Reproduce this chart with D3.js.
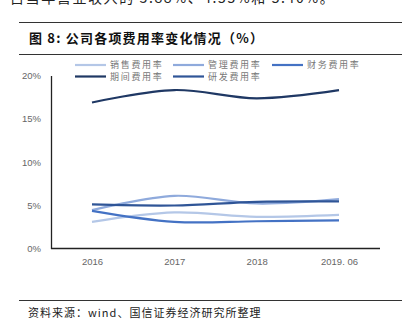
<!DOCTYPE html>
<html><head><meta charset="utf-8">
<script src="https://cdn.jsdelivr.net/npm/d3@7"></script>
<style>body{margin:0;background:#fff}svg{display:block}</style>
</head><body>
<script>
const categories = ["2016", "2017", "2018", "2019.06"];
const seriesNames = ["销售费用率", "管理费用率", "财务费用率", "期间费用率", "研发费用率"];
const sales   = [3.08, 4.17, 3.66, 3.88];
const admin   = [4.43, 6.09, 5.20, 5.70];
const finance = [4.35, 3.08, 3.15, 3.24];
const period  = [16.88, 18.32, 17.36, 18.30];
const rnd     = [5.09, 4.97, 5.40, 5.44];
const yTicks  = [0, 5, 10, 15, 20];
const colors  = ["#B4C7E7", "#8FAADC", "#4472C4", "#1F3864", "#2F5597"];

const W = 413, H = 329;
const svg = d3.select("body").append("svg").attr("width", W).attr("height", H);
const cjk = "'Noto Sans CJK SC', sans-serif";

// top cut-off paragraph text
svg.append("text").attr("x", 10).attr("y", 3).attr("font-family", cjk)
  .attr("font-size", 14).attr("letter-spacing", 1.6).attr("fill", "#222").text("占当年营业收入的 3.88%、4.55%和 5.40%。");

// title band
svg.append("line").attr("x1", 19).attr("x2", 402).attr("y1", 22.5).attr("y2", 22.5).attr("stroke", "#333").attr("stroke-width", 1);
svg.append("line").attr("x1", 19).attr("x2", 402).attr("y1", 54.5).attr("y2", 54.5).attr("stroke", "#333").attr("stroke-width", 1);
svg.append("text").attr("x", 29).attr("y", 43).attr("font-family", cjk).attr("font-weight", "bold")
  .attr("font-size", 13).attr("letter-spacing", 1.2).attr("fill", "#111").text("图 8: 公司各项费用率变化情况（%）");

// footer
svg.append("line").attr("x1", 19).attr("x2", 402).attr("y1", 300.5).attr("y2", 300.5).attr("stroke", "#333").attr("stroke-width", 1);
svg.append("text").attr("x", 28).attr("y", 317).attr("font-family", cjk)
  .attr("font-size", 11).attr("letter-spacing", 1).attr("fill", "#222").text("资料来源：wind、国信证券经济研究所整理");

// scales
const x = d3.scalePoint().domain(categories).range([92, 339]);
const y = d3.scaleLinear().domain([0, 20]).range([248.5, 75.5]);

// axes
const yAxis = svg.append("g").attr("transform", "translate(51,0)")
  .call(d3.axisLeft(y).tickValues(yTicks).tickSize(0).tickPadding(10).tickFormat(d => d + "%"));
yAxis.select(".domain").attr("stroke", "#222").attr("stroke-width", 1.3);
yAxis.selectAll("text").attr("font-family", "'Liberation Sans', Arial, sans-serif").attr("font-size", 9.5).attr("fill", "#666");

const xAxis = svg.append("g").attr("transform", "translate(0,248.5)")
  .call(d3.axisBottom(x).tickSize(0).tickPadding(10).tickFormat(d => d === "2019.06" ? "2019. 06" : d));
xAxis.select(".domain").attr("d", "M51,0H380").attr("stroke", "#222").attr("stroke-width", 1.3);
xAxis.selectAll("text").attr("font-family", "'Liberation Sans', Arial, sans-serif").attr("font-size", 9.5).attr("fill", "#666");

// lines
const allSeries = [sales, admin, finance, period, rnd];
const line = d3.line().x((d, i) => x(categories[i])).y(d => y(d)).curve(d3.curveCatmullRom.alpha(0.5));
allSeries.forEach((vals, k) => {
  svg.append("path").datum(vals).attr("d", line).attr("fill", "none")
    .attr("stroke", colors[k]).attr("stroke-width", 2.2);
});

// legend
const legendPos = [[75, 65], [173, 65], [272, 65], [75, 76.5], [173, 76.5]];
seriesNames.forEach((name, k) => {
  const [lx, ly] = legendPos[k];
  svg.append("line").attr("x1", lx).attr("x2", lx + 31).attr("y1", ly).attr("y2", ly)
    .attr("stroke", colors[k]).attr("stroke-width", 2.2);
  svg.append("text").attr("x", lx + 35).attr("y", ly + 3.3).attr("font-family", cjk)
    .attr("font-size", 9).attr("letter-spacing", 1.7).attr("fill", "#777").text(name);
});
</script>
</body></html>
